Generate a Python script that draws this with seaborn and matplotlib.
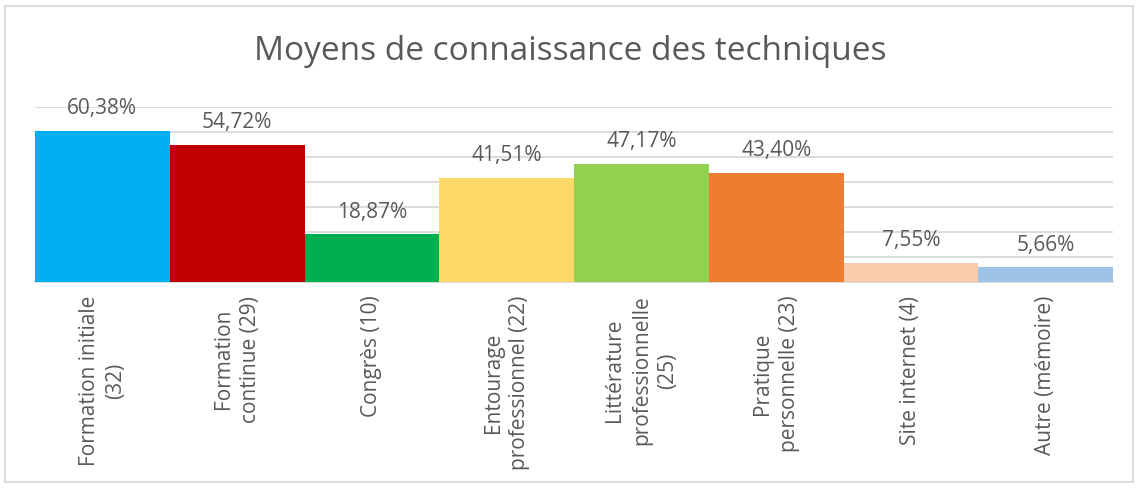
import matplotlib
matplotlib.use('Agg')
import matplotlib.pyplot as plt
import matplotlib.patches as patches
import seaborn as sns
import pandas as pd

# Données du graphique
categories = ['Formation initiale\n(32)', 'Formation\ncontinue (29)', 'Congrès (10)',
              'Entourage\nprofessionnel (22)', 'Littérature\nprofessionnelle\n(25)',
              'Pratique\npersonnelle (23)', 'Site internet (4)', 'Autre (mémoire)']
pourcentages = [60.38, 54.72, 18.87, 41.51, 47.17, 43.40, 7.55, 5.66]
couleurs = ['#00B0F0', '#C00000', '#00B050', '#FFD966',
            '#92D050', '#ED7D31', '#F8CBAD', '#9DC3E6']

df = pd.DataFrame({'Moyen': categories, 'Pourcentage': pourcentages})

sns.set_style('white')
plt.rcParams['font.family'] = ['Open Sans', 'DejaVu Sans']
gris = '#595959'

fig = plt.figure(figsize=(11.4, 4.89), dpi=100)
ax = fig.add_axes([35 / 1140, 206.5 / 489, (1113 - 35) / 1140, 175 / 489])

sns.barplot(data=df, x='Moyen', y='Pourcentage', hue='Moyen', palette=couleurs,
            width=1, saturation=1, legend=False, ax=ax, zorder=3,
            edgecolor='none', linewidth=0)

ax.set_ylim(0, 70)
ax.set_xlim(-0.5, len(categories) - 0.5)
ax.set_yticks(range(0, 71, 10))
ax.yaxis.grid(True, color='#D9D9D9', linewidth=1.3, zorder=0)
ax.set_axisbelow(True)
ax.tick_params(axis='y', left=False, labelleft=False)
ax.tick_params(axis='x', bottom=False, pad=6)
for s in ['top', 'right', 'left']:
    ax.spines[s].set_visible(False)
ax.spines['bottom'].set_color('#D9D9D9')
ax.spines['bottom'].set_linewidth(1.3)
ax.set_xlabel('')
ax.set_ylabel('')

ax.set_xticks(range(len(categories)))
ax.set_xticklabels(categories, rotation=90, fontsize=15, color=gris,
                   va='top', ha='center', multialignment='center', linespacing=1.35)

for cont in ax.containers:
    ax.bar_label(cont, labels=[f'{v:.2f}%'.replace('.', ',') for v in cont.datavalues],
                 padding=9, fontsize=15, color=gris)

fig.suptitle('Moyens de connaissance des techniques', y=1 - 52 / 489, va='center',
             fontsize=24, color=gris, fontweight='normal')

fig.patches.append(patches.Rectangle((5 / 1140, 6 / 489), 1128 / 1140, 476 / 489,
                                     transform=fig.transFigure, fill=False,
                                     edgecolor='#D9D9D9', linewidth=1.3))

fig.savefig('out.png', dpi=100)
